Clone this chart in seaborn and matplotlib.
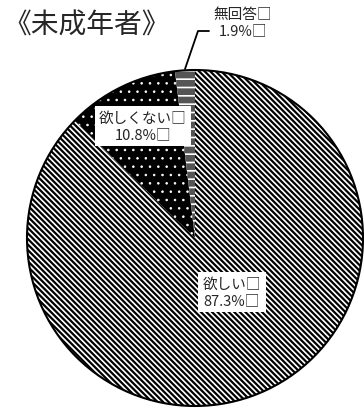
import matplotlib
matplotlib.use("Agg")
import matplotlib.pyplot as plt
import seaborn as sns
from matplotlib.patches import Circle

sns.set_theme(style="white")
plt.rcParams['font.family'] = ['Noto Sans CJK JP', 'DejaVu Sans']
plt.rcParams['hatch.linewidth'] = 1.6

title = "《未成年者》"
categories = ["欲しい", "欲しくない", "無回答"]
values = [87.3, 10.8, 1.9]

W, H = 364, 410
fig = plt.figure(figsize=(W / 100, H / 100), dpi=100)
ax = fig.add_axes([0, 0, 1, 1])

cx, cy, r = 195, H - 239, 168

styles = [
    dict(facecolor="white", edgecolor="black", hatch="\\\\\\\\\\\\", lw=1.6),
    dict(facecolor="black", edgecolor="white", hatch="..", lw=0.6),
    dict(facecolor="#555555", edgecolor="white", hatch="--", lw=1.2),
]

wedges, _ = ax.pie(values, startangle=90, counterclock=False,
                   center=(cx, cy), radius=r, frame=True)
for w, st in zip(wedges, styles):
    w.set_facecolor(st["facecolor"])
    w.set_edgecolor(st["edgecolor"])
    w.set_hatch(st["hatch"])
    try:
        w.set_hatch_linewidth(st["lw"])
    except AttributeError:
        w._hatch_linewidth = st["lw"]
    w.set_linewidth(0)

ax.add_patch(Circle((cx, cy), r, facecolor="none", edgecolor="black", lw=1.5, zorder=5))
ax.set_xlim(0, W)
ax.set_ylim(0, H)
ax.set_aspect("equal")
ax.axis("off")

ax.text(3, H - 26, title, fontsize=20, ha="left", va="center")

box = dict(boxstyle="square,pad=0.3", facecolor="white", edgecolor="none")
lab = [f"{c}□\n{v}%□" for c, v in zip(categories, values)]
ax.text(232, H - 293, lab[0], fontsize=10.5, ha="center", va="center",
        linespacing=1.25, bbox=box, zorder=6)
ax.text(143, H - 127, lab[1], fontsize=10.5, ha="center", va="center",
        linespacing=1.25, bbox=box, zorder=6)
ax.text(243, H - 23, lab[2], fontsize=10.5, ha="center", va="center",
        linespacing=1.25, zorder=6)

# leader line for the small slice
ax.plot([185, 198, 209], [H - 70, H - 32, H - 32], color="black", lw=1.3, zorder=6)

fig.savefig("out.png", dpi=100)
